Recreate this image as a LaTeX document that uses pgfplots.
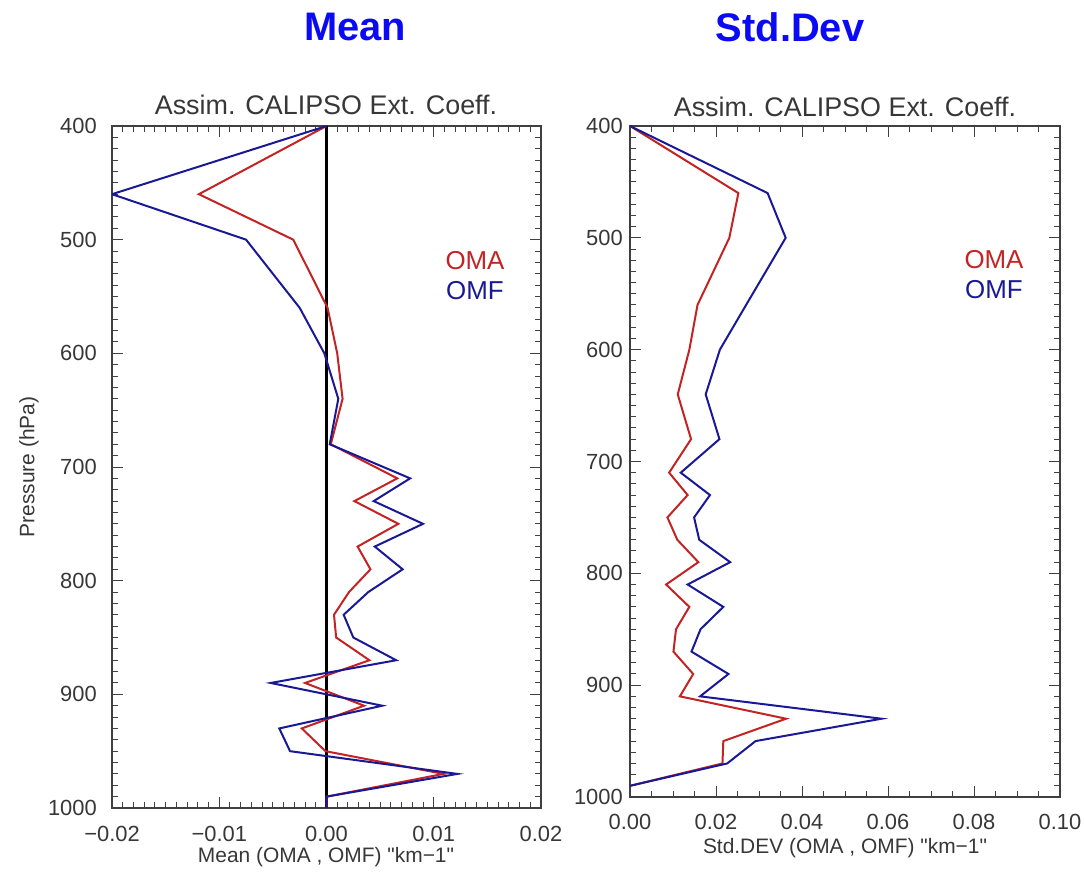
\documentclass[border=0pt]{standalone}
\usepackage{pgfplots}
\pgfplotsset{compat=1.18}
\usepackage{fontspec}
\setmainfont{Liberation Sans}
\newfontfamily\qf{Liberation Sans}
\definecolor{omared}{RGB}{195,35,35}
\definecolor{omfblue}{RGB}{25,25,150}
\definecolor{hdrblue}{RGB}{10,10,245}
\definecolor{txt}{RGB}{55,55,55}
\pgfplotsset{
  idl/.style={
    scale only axis, y dir=reverse, ymin=400, ymax=1000,
    scaled ticks=false,
    ytick={400,500,600,700,800,900,1000},
    yticklabels={400,500,600,700,800,900,1000},
    minor y tick num=9,
    axis line style={black!75, line width=1.2bp},
    every tick/.style={black!75, line width=1bp},
    major tick length=11bp, minor tick length=6bp,
    tick align=inside,
    ticklabel style={font=\fontsize{22}{26}\selectfont, text=txt, inner sep=0pt},
    yticklabel style={anchor=east},
    xticklabel style={anchor=center},
  }
}
\begin{document}
\begin{tikzpicture}[x=1bp,y=1bp]
\useasboundingbox (0,0) rectangle (1084,873);

% ---------------- Mean ----------------
\begin{axis}[idl, at={(112bp,65bp)}, anchor=south west, width=429bp, height=682bp,
  xmin=-0.02, xmax=0.02, xtick={-0.02,-0.01,0,0.01,0.02},
  xticklabels={−0.02,−0.01,0.00,0.01,0.02}, minor x tick num=9,
  yticklabel style={xshift=-15bp}, xticklabel style={yshift=-26bp}]
\addplot[black, line width=2.3bp] coordinates {(0,400) (0,1000)};
\addplot[omared, line width=2bp] table[x index=1, y index=0] {
p v
400 0
460 -0.0119
500 -0.0031
560 0.0001
600 0.0010
640 0.0015
680 0.0004
710 0.0066
730 0.0026
750 0.0067
770 0.0029
790 0.0041
810 0.0021
830 0.0007
850 0.0009
870 0.0040
890 -0.0020
910 0.0035
930 -0.0023
950 -0.0001
970 0.0109
990 0
1000 0
};
\addplot[omfblue, line width=2bp] table[x index=1, y index=0] {
p v
400 0
460 -0.0200
500 -0.0075
560 -0.0025
600 -0.0002
640 0.0011
680 0.0003
710 0.0078
730 0.0044
750 0.0090
770 0.0045
790 0.0071
810 0.0039
830 0.0016
850 0.0025
870 0.0065
890 -0.0052
910 0.0052
930 -0.0044
950 -0.0034
970 0.0122
990 0
1000 0
};
\end{axis}

% ---------------- Std.Dev ----------------
\begin{axis}[idl, at={(630bp,76bp)}, anchor=south west, width=430bp, height=671bp,
  xmin=0, xmax=0.1, xtick={0,0.02,0.04,0.06,0.08,0.1},
  xticklabels={0.00,0.02,0.04,0.06,0.08,0.10}, minor x tick num=3,
  yticklabel style={xshift=-7bp}, xticklabel style={yshift=-25bp}]
\addplot[omared, line width=2bp] table[x index=1, y index=0] {
p v
400 0
460 0.0252
500 0.0231
560 0.0157
600 0.0138
640 0.0111
680 0.0142
710 0.0091
730 0.0134
750 0.0087
770 0.0110
790 0.0159
810 0.0084
830 0.0138
850 0.0107
870 0.0101
890 0.0147
910 0.0116
930 0.0363
950 0.0217
970 0.0215
990 0
};
\addplot[omfblue, line width=2bp] table[x index=1, y index=0] {
p v
400 0
460 0.0320
500 0.0362
560 0.0270
600 0.0209
640 0.0176
680 0.0208
710 0.0118
730 0.0186
750 0.0149
770 0.0161
790 0.0233
810 0.0134
830 0.0217
850 0.0164
870 0.0143
890 0.0229
910 0.0163
930 0.0585
950 0.0292
970 0.0226
990 0
};
\end{axis}

% headers
\node[text=hdrblue, font=\fontsize{40}{44}\selectfont\bfseries] at (355,846) {Mean};
\node[text=hdrblue, font=\fontsize{40}{44}\selectfont\bfseries] at (790,846) {Std.Dev};
% titles
\node[text=txt, font=\fontsize{27}{30}\selectfont] at (326,768) {Assim. CALIPSO Ext. Coeff.};
\node[text=txt, font=\fontsize{27}{30}\selectfont] at (845,766) {Assim. CALIPSO Ext. Coeff.};
% axis labels
\node[text=txt, font=\fontsize{21}{24}\selectfont, inner sep=0pt] at (326,16) {Mean (OMA , OMF) {\qf"}km−1{\qf"}};
\node[text=txt, font=\fontsize{21}{24}\selectfont, inner sep=0pt] at (845,25) {Std.DEV (OMA , OMF) {\qf"}km−1{\qf"}};
\node[text=txt, font=\fontsize{21}{24}\selectfont, rotate=90] at (29,406) {Pressure (hPa)};
% legends
\node[text=omared, font=\fontsize{26}{30}\selectfont] at (475,612) {OMA};
\node[text=omfblue, font=\fontsize{26}{30}\selectfont] at (475,582) {OMF};
\node[text=omared, font=\fontsize{26}{30}\selectfont] at (994,613) {OMA};
\node[text=omfblue, font=\fontsize{26}{30}\selectfont] at (994,583) {OMF};
\end{tikzpicture}
\end{document}
